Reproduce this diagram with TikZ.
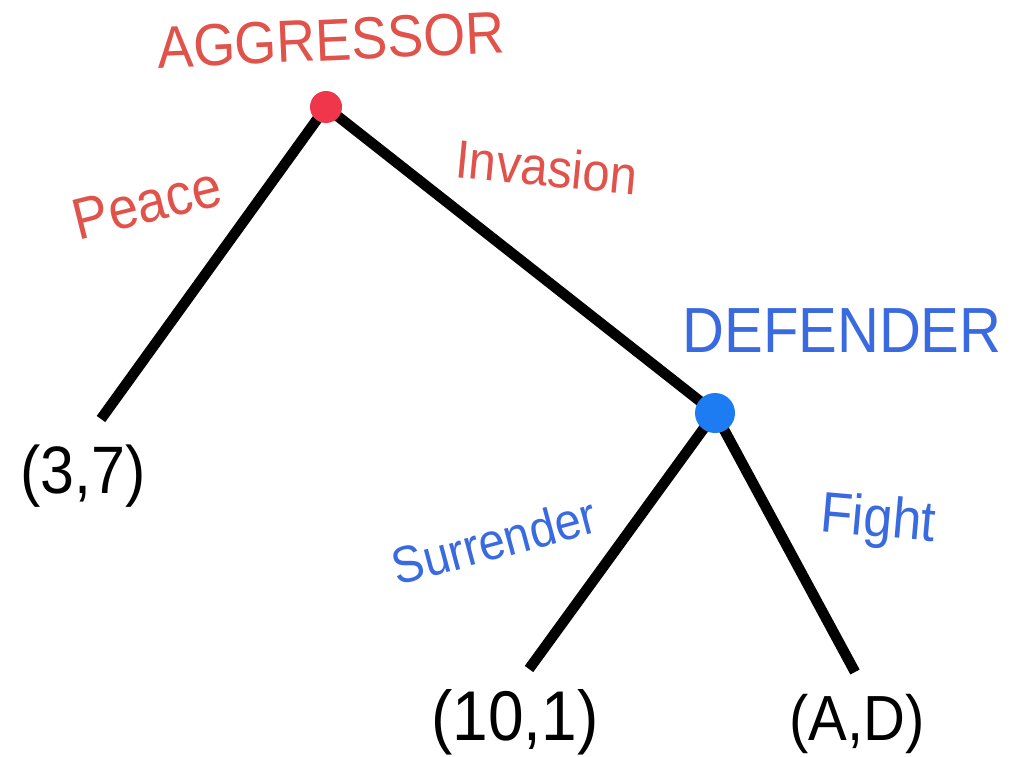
\documentclass[tikz,border=0pt]{standalone}
\usepackage{fontspec}
\setmainfont{Liberation Sans}
\usetikzlibrary{backgrounds}
\definecolor{redtxt}{HTML}{E0524A}
\definecolor{reddot}{HTML}{F0364A}
\definecolor{bluetxt}{HTML}{3A6AE0}
\definecolor{bluedot}{HTML}{1E7CF2}
\newcommand\fs[1]{\fontsize{#1}{#1}\selectfont}
\newcommand\tall[1]{\scalebox{1}[1.1]{#1}}
\begin{document}
\begin{tikzpicture}[x=1pt,y=-1pt,
  branch/.style={line width=10.5pt, black, line cap=butt},
  dotnode/.style={circle, inner sep=0pt, draw=none},
  lbl/.style={inner sep=0pt, anchor=center},
  redlbl/.style={lbl, text=redtxt},
  bluelbl/.style={lbl, text=bluetxt},
  payoff/.style={lbl, text=black}]
\useasboundingbox (0,0) rectangle (1017,757);
% decision nodes
\node[dotnode, fill=reddot, minimum size=32pt] (agg) at (326,107) {};
\node[dotnode, fill=bluedot, minimum size=40pt] (def) at (715,413) {};
% free ends
\coordinate (e1) at (101,419);
\coordinate (e2) at (529,669);
\coordinate (e3) at (855,672);
\begin{scope}[on background layer]
\fill[white] (0,0) rectangle (1017,757);
\draw[branch] (agg.center) -- (e1);
\draw[branch] (agg.center) -- (def.center);
\draw[branch] (def.center) -- (e2);
\draw[branch] (def.center) -- (e3);
\end{scope}
% labels
\node[redlbl, rotate=2.5] (taggr) at (331,40) {\tall{\fs{54}AGGRESSOR}};
\node[redlbl, rotate=-5.5] (tinv) at (547,167) {\tall{\fs{49}Invasion}};
\node[redlbl, rotate=14] (tpeace) at (147,203) {\tall{\fs{53}Peace}};
\node[bluelbl] (tdef) at (842,331) {\tall{\fs{58}DEFENDER}};
\node[bluelbl, rotate=15] (tsurr) at (494,541) {\tall{\fs{47}Surrender}};
\node[bluelbl, rotate=-5] (tfight) at (878,522) {\tall{\fs{52}Fight}};
% payoffs
\node[payoff] (p1) at (83,476) {\tall{\fs{61}(3,7)}};
\node[payoff] (p2) at (515,722) {\tall{\fs{64}(10,1)}};
\node[payoff] (p3) at (857,724) {\tall{\fs{58}(A,D)}};
\end{tikzpicture}
\end{document}
